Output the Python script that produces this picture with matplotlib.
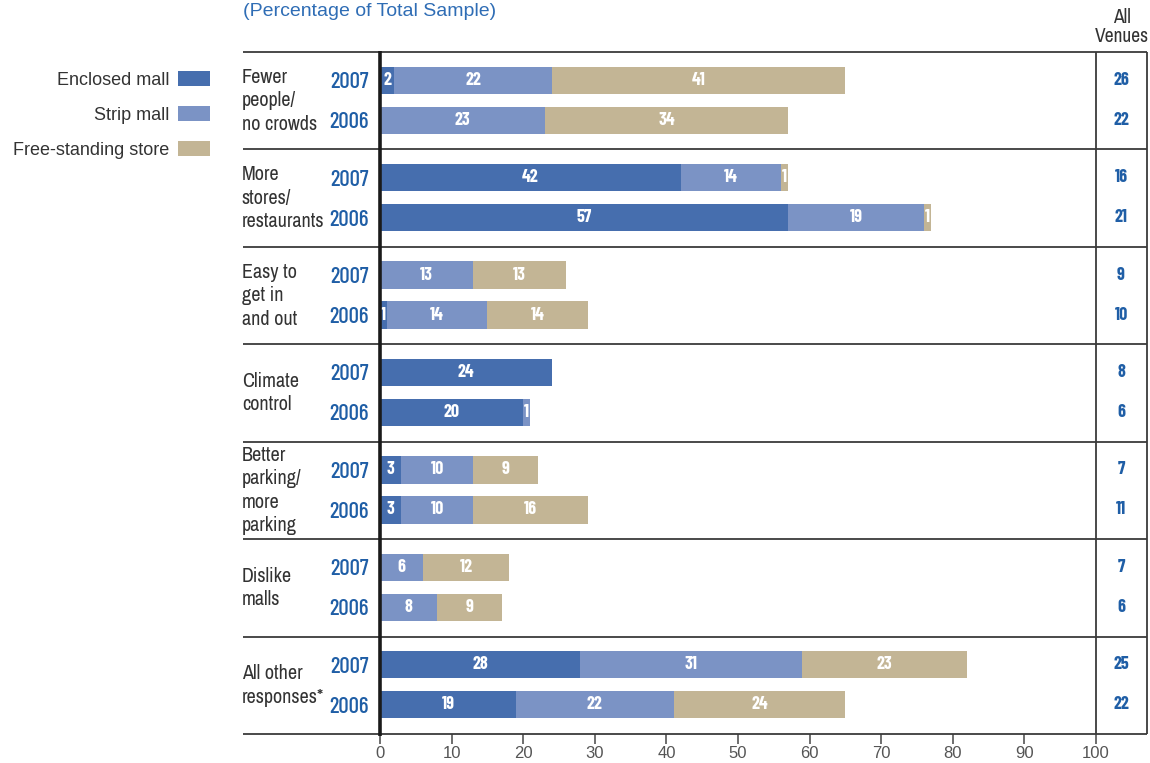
import matplotlib
matplotlib.use("Agg")
import matplotlib.pyplot as plt
from matplotlib import font_manager
from matplotlib.patches import Patch

# Survey data: reasons for preferring a venue, by venue type (%)
categories = ["Fewer\npeople/\nno crowds", "More\nstores/\nrestaurants",
              "Easy to\nget in\nand out", "Climate\ncontrol",
              "Better\nparking/\nmore\nparking", "Dislike\nmalls",
              "All other\nresponses*"]
years = ["2007", "2006"]
venues = ["Enclosed mall", "Strip mall", "Free-standing store"]

enclosed_2007 = [2, 42, 0, 24, 3, 0, 28]
strip_2007 = [22, 14, 13, 0, 10, 6, 31]
free_2007 = [41, 1, 13, 0, 9, 12, 23]

enclosed_2006 = [0, 57, 1, 20, 3, 0, 19]
strip_2006 = [23, 19, 14, 1, 10, 8, 22]
free_2006 = [34, 1, 14, 0, 16, 9, 24]

all_venues_2007 = [26, 16, 9, 8, 7, 7, 25]
all_venues_2006 = [22, 21, 10, 6, 11, 6, 22]

x_ticks = [0, 10, 20, 30, 40, 50, 60, 70, 80, 90, 100]

# Fonts: condensed faces for the table text, a regular one for legend and axis
names = {f.name for f in font_manager.fontManager.ttflist}


def pick(options, fallback="DejaVu Sans"):
    return next((n for n in options if n in names), fallback)


narrow_text = pick(["Archivo Narrow", "Barlow Semi Condensed", "Liberation Sans Narrow"])
narrow_num = pick(["Barlow Condensed", "Barlow Semi Condensed", "Archivo Narrow"])
regular = pick(["Liberation Sans"])
txt_font = dict(family=narrow_text, fontstretch="condensed")
num_font = dict(family=narrow_num, fontstretch="condensed")

# Colours
c_enclosed = "#466eae"
c_strip = "#7b93c5"
c_free = "#c3b595"
c_blue_text = "#1f5ea6"
c_text = "#333333"
c_line = "#3a3a3a"
colors = [c_enclosed, c_strip, c_free]

fig = plt.figure(figsize=(11.5, 7.63), dpi=100)
ax = fig.add_axes([380 / 1150, 1 - 734 / 763, 716 / 1150, 682 / 763])
ax.set_xlim(0, 100)
ax.set_ylim(len(categories), 0)

bar_h = 0.28
offsets = {"2007": 0.29, "2006": 0.70}
series = {
    "2007": (enclosed_2007, strip_2007, free_2007, all_venues_2007),
    "2006": (enclosed_2006, strip_2006, free_2006, all_venues_2006),
}

for yr in years:
    enc, strp, free, allv = series[yr]
    for i in range(len(categories)):
        y = i + offsets[yr]
        left = 0
        for val, col in zip((enc[i], strp[i], free[i]), colors):
            if val > 0:
                ax.barh(y, val, left=left, height=bar_h, color=col, linewidth=0)
                ax.text(left + val / 2, y, str(val), ha="center", va="center",
                        color="white", fontsize=13, fontweight="bold", **num_font)
            left += val
        # year label to the left of the bars
        ax.text(-1.6, y + 0.02, yr, ha="right", va="center", color=c_blue_text,
                fontsize=16.5, fontweight="medium", clip_on=False, **num_font)
        # all venues column
        ax.text(103.5, y, str(allv[i]), ha="center", va="center", color=c_blue_text,
                fontsize=13, fontweight="bold", clip_on=False, **num_font)

# category labels
for i, cat in enumerate(categories):
    ax.text(-19.3, i + 0.5, cat, ha="left", va="center", color=c_text,
            fontsize=14.5, linespacing=1.3, clip_on=False, **txt_font)

# grid frame: group separators, zero line and the all-venues column
ax.hlines(range(len(categories) + 1), -19.1, 107.1, color=c_line, lw=1.3, clip_on=False)
ax.vlines([100, 107.1], 0, len(categories), color=c_line, lw=1.3, clip_on=False)
ax.vlines(0, -0.01, len(categories) + 0.02, color="#1a1a1a", lw=2.6, clip_on=False, zorder=5)

for s in ax.spines.values():
    s.set_visible(False)
ax.set_yticks([])
ax.set_xticks(x_ticks)
ax.set_xticklabels([str(t) for t in x_ticks], family=regular, fontsize=12, color="#555555")
ax.tick_params(axis="x", length=7, width=1.2, color="#555555", pad=2)

# headers
fig.text(243 / 1150, 1 - 12 / 763, "(Percentage of Total Sample)", ha="left", va="center",
         color="#2f6db5", fontsize=14, family=regular)
fig.text(1122 / 1150, 1 - 27 / 763, "All\nVenues", ha="center", va="center",
         color=c_text, fontsize=14, linespacing=1.05, **txt_font)

# legend with swatches on the right of the labels
handles = [Patch(facecolor=c, edgecolor="none") for c in colors]
fig.legend(handles, venues, loc="upper right", bbox_to_anchor=(210 / 1150, 1 - 71 / 763),
           frameon=False, markerfirst=False, borderpad=0, borderaxespad=0,
           handlelength=1.75, handleheight=0.9, handletextpad=0.5, labelspacing=0.97,
           prop={"family": regular, "size": 13}, labelcolor=c_text)

fig.savefig("out.png", dpi=100)
